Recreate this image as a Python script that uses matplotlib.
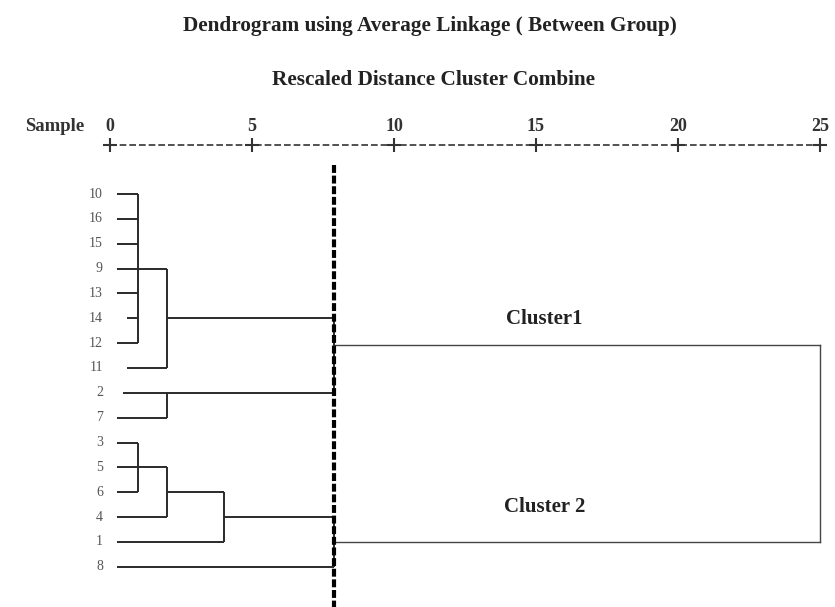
"""
Dendrogram using average linkage (SPSS style)
"""

import matplotlib
matplotlib.use('Agg')
import matplotlib.pyplot as plt

# leaf labels, top to bottom
labels = ['10', '16', '15', '9', '13', '14', '12', '11',
          '2', '7', '3', '5', '6', '4', '1', '8']
# where each leaf line starts (rescaled distance)
leaf_start = [0.25, 0.25, 0.25, 0.25, 0.25, 0.6, 0.25, 0.6,
              0.45, 0.25, 0.25, 0.25, 0.25, 0.25, 0.25, 0.25]

# merges: children (leaf index or node name), distance, row of the new node
merges = [
    ([0, 1, 2, 3, 4, 5, 6], 1.0, 3),
    (['n0', 7], 2.0, 5),
    ([8, 9], 2.0, 8),
    ([10, 11, 12], 1.0, 11),
    (['n3', 13], 2.0, 12),
    (['n4', 14], 4.0, 13),
    (['n1', 'n2'], 7.9, 6.08),
    (['n5', 15], 7.9, 14),
]
clusters = ['n6', 'n7']
cluster_names = ['Cluster1', 'Cluster 2']
final_dist = 25.0
cut = 7.9

ticks = [0, 5, 10, 15, 20, 25]

serif = 'Liberation Serif'


def create_dendrogram():
    fig = plt.figure(figsize=(8.35, 6.07), dpi=100)
    ax = fig.add_axes([0, 0, 1, 1])
    # px = 110 + 28.4 * d ; py = 194 + 24.85 * row
    ax.set_xlim(-110 / 28.4, (835 - 110) / 28.4)
    ax.set_ylim((607 - 194) / 24.85, -194 / 24.85)
    ax.axis('off')

    tree = dict(color='#2a2a2a', lw=1.4, solid_capstyle='butt')

    # each node: (row, distance)
    nodes = {}
    for i, lab in enumerate(labels):
        nodes[i] = (i, leaf_start[i])
        ax.text(-0.25, i, lab, ha='right', va='center', fontsize=10,
                family=serif, color='#555555')

    for k, (kids, dist, row) in enumerate(merges):
        rows = []
        for c in kids:
            r, d = nodes[c]
            ax.plot([d, dist], [r, r], **tree)
            rows.append(r)
        ax.plot([dist, dist], [min(rows), max(rows)], **tree)
        nodes['n%d' % k] = (row, dist)

    # two clusters joined at the end
    rows = []
    label_shift = [-1.05, -1.4]
    for c, name, sh in zip(clusters, cluster_names, label_shift):
        r, d = nodes[c]
        ax.plot([d, final_dist], [r, r], color='#444444', lw=1.0)
        rows.append(r)
        ax.text(15.3, r + sh, name, ha='center', va='center',
                fontsize=15, family=serif, fontweight='bold', color='#222222')
    ax.plot([final_dist, final_dist], [rows[0], rows[1]], color='#444444', lw=1.0)

    # cut line
    ax.plot([cut, cut], [-1.17, 16.7], color='black', lw=3.0,
            linestyle=(0, (1.9, 0.65)))

    # scale at the top
    axis_row = -1.97
    ax.plot([0, 25], [axis_row, axis_row], color='#333333', lw=1.2,
            linestyle=(0, (4, 1.8)))
    ax.plot(ticks, [axis_row] * len(ticks), '+', color='#333333',
            markersize=10, mew=1.5)
    for t in ticks:
        ax.text(t, axis_row - 0.4, str(t), ha='center', va='bottom',
                fontsize=13, family=serif, fontweight='bold', color='#333333')
    ax.text(-1.95, axis_row - 0.4, 'Sample', ha='center', va='bottom',
            fontsize=13.5, family=serif, fontweight='bold', color='#333333')

    fig.text(430 / 835, 1 - 26 / 607, 'Dendrogram using Average Linkage ( Between Group)',
             ha='center', va='center', fontsize=15.3, family=serif,
             fontweight='bold', color='#222222')
    fig.text(433 / 835, 1 - 80 / 607, 'Rescaled Distance Cluster Combine',
             ha='center', va='center', fontsize=15.3, family=serif,
             fontweight='bold', color='#222222')

    fig.savefig('out.png', dpi=100, facecolor='white')


if __name__ == '__main__':
    create_dendrogram()
